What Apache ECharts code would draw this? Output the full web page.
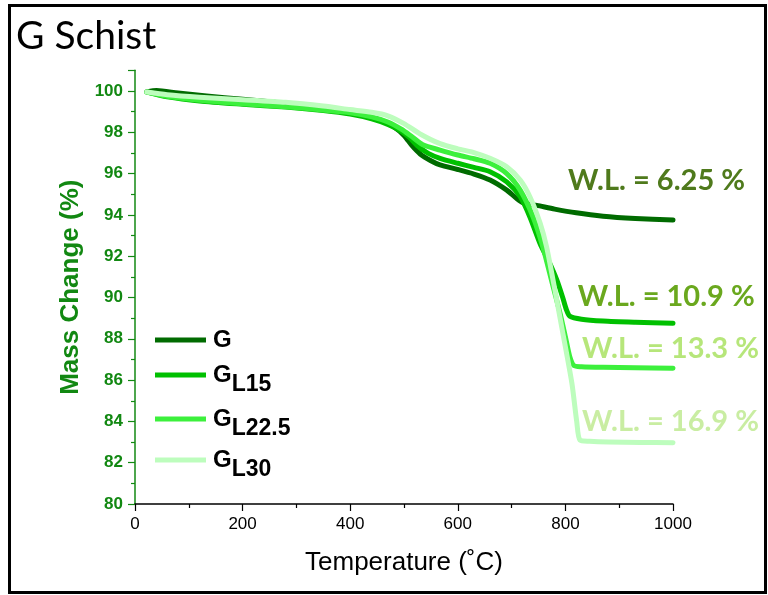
<!DOCTYPE html>
<html>
<head>
<meta charset="utf-8">
<script src="https://cdn.jsdelivr.net/npm/echarts@6/dist/echarts.min.js"></script>
<style>
  html, body { margin: 0; padding: 0; background: #fff; }
  #chart { width: 768px; height: 595px; }
</style>
</head>
<body>
<div id="chart"></div>
<script>
// Thermogravimetric curves: temperature (°C) and remaining mass (%)
const seriesNames = ['G', 'GL15', 'GL22.5', 'GL30'];

const tempG = [22, 40, 80, 133, 200, 260, 320, 380, 430, 460, 480, 500, 515, 530, 550, 567, 600, 630, 660, 691, 710, 722, 747, 780, 820, 870, 930, 1000];
const massG = [99.95, 100.02, 99.9, 99.76, 99.6, 99.45, 99.28, 99.02, 98.78, 98.55, 98.28, 97.85, 97.35, 96.95, 96.62, 96.42, 96.2, 95.98, 95.69, 95.2, 94.78, 94.58, 94.46, 94.28, 94.1, 93.94, 93.83, 93.75];

const tempL15 = [22, 60, 120, 200, 280, 350, 400, 440, 470, 495, 510, 525, 545, 567, 600, 630, 660, 691, 716, 734, 753, 770, 784, 795, 802, 808, 830, 870, 930, 1000];
const massL15 = [99.95, 99.72, 99.52, 99.36, 99.22, 99.05, 98.88, 98.65, 98.38, 98.05, 97.75, 97.35, 96.98, 96.74, 96.5, 96.3, 96.09, 95.6, 94.88, 93.9, 92.6, 91.7, 90.85, 90.0, 89.4, 89.1, 88.95, 88.86, 88.8, 88.75];

const tempL225 = [22, 60, 120, 200, 280, 350, 400, 440, 470, 495, 515, 535, 567, 600, 630, 660, 691, 716, 740, 758, 775, 790, 800, 808, 816, 830, 870, 930, 1000];
const massL225 = [99.95, 99.74, 99.55, 99.38, 99.24, 99.08, 98.95, 98.75, 98.5, 98.15, 97.78, 97.4, 97.14, 96.9, 96.72, 96.5, 96.0, 95.2, 93.9, 92.46, 90.75, 89.24, 88.1, 87.15, 86.7, 86.65, 86.62, 86.6, 86.57];

const tempL30 = [22, 60, 120, 200, 280, 350, 400, 440, 470, 500, 530, 567, 600, 630, 660, 691, 716, 734, 753, 765, 777, 793, 812, 821, 827, 845, 880, 940, 1000];
const massL30 = [99.95, 99.82, 99.7, 99.58, 99.45, 99.27, 99.1, 98.97, 98.8, 98.42, 97.92, 97.45, 97.2, 97.02, 96.74, 96.33, 95.69, 94.88, 93.6, 92.46, 90.85, 88.59, 85.86, 84.0, 83.1, 83.04, 83.0, 82.98, 82.97];

// Weight-loss annotations and the point (°C, %) each one starts from
const lossLabels = ['W.L. = 6.25 %', 'W.L. = 10.9 %', 'W.L. = 13.3 %', 'W.L. = 16.9 %'];
const lossAnchors = [[805, 95.65], [823, 90.05], [831, 87.52], [831, 83.98]];

const lineColors = ['#006b00', '#00c000', '#3cf03c', '#bdfdbd'];
const lossColors = ['#4f7a1c', '#6aa81e', '#b6e67a', '#c9eda2'];
const axisGreen = '#128812';

const temps = [tempG, tempL15, tempL225, tempL30];
const masses = [massG, massL15, massL225, massL30];

function pairs(t, m) { return t.map((x, i) => [x, m[i]]); }

const chart = echarts.init(document.getElementById('chart'), null, { renderer: 'canvas' });

// one legend block per series so each entry sits at its own height
const legendTops = [328, 363, 407, 448];
const legends = seriesNames.map((name, i) => ({
  data: [name],
  left: 155,
  top: legendTops[i],
  padding: 0,
  icon: 'rect',
  itemWidth: 51,
  itemHeight: 5,
  itemGap: 0,
  selectedMode: false,
  formatter: n => n === 'G' ? '{m|G}' : '{m|G}{s|' + n.slice(1) + '}',
  textStyle: {
    padding: [0, 0, 0, 2],
    rich: {
      m: { fontFamily: 'Liberation Sans', fontWeight: 'bold', fontSize: 24, color: '#000' },
      s: { fontFamily: 'Liberation Sans', fontWeight: 'bold', fontSize: 23, color: '#000', padding: [19, 0, 0, 0] }
    }
  }
}));

chart.setOption({
  animation: false,
  backgroundColor: '#fff',
  title: {
    text: 'G Schist',
    left: 16,
    top: 17,
    padding: 0,
    textStyle: { fontFamily: 'Lato', fontWeight: 'normal', fontSize: 39, color: '#000' }
  },
  legend: legends,
  grid: { left: 135, right: 95, top: 70.35, bottom: 91 },
  xAxis: {
    type: 'value',
    min: 0, max: 1000, interval: 200,
    name: 'Temperature (˚C)',
    nameLocation: 'middle',
    nameGap: 46,
    nameTextStyle: { fontFamily: 'Liberation Sans', fontSize: 26, color: '#000' },
    axisLine: { show: true, lineStyle: { color: '#000', width: 1.5 } },
    axisTick: { show: true, length: 7, lineStyle: { color: '#000', width: 1.2 } },
    minorTick: { show: true, splitNumber: 2, length: 4, lineStyle: { color: '#000', width: 1.2 } },
    axisLabel: { fontFamily: 'Liberation Sans', fontSize: 17, color: '#000', margin: 12, formatter: v => String(v) },
    splitLine: { show: false },
    minorSplitLine: { show: false }
  },
  yAxis: {
    type: 'value',
    min: 80, max: 101, interval: 2,
    name: 'Mass Change (%)',
    nameLocation: 'middle',
    nameGap: 50,
    nameTextStyle: { fontFamily: 'Liberation Sans', fontWeight: 'bold', fontSize: 26, color: axisGreen },
    axisLine: { show: true, lineStyle: { color: axisGreen, width: 1.5 } },
    axisTick: { show: true, length: 7, lineStyle: { color: axisGreen, width: 1.2 } },
    minorTick: { show: true, splitNumber: 2, length: 4, lineStyle: { color: axisGreen, width: 1.2 } },
    axisLabel: {
      fontFamily: 'Liberation Sans', fontWeight: 'bold', fontSize: 17, color: axisGreen, margin: 12,
      formatter: v => (v > 100 ? '' : String(v))
    },
    splitLine: { show: false },
    minorSplitLine: { show: false }
  },
  series: seriesNames.map((name, i) => ({
    name: name,
    type: 'line',
    data: pairs(temps[i], masses[i]),
    showSymbol: false,
    symbol: 'none',
    smooth: 0.25,
    lineStyle: { color: lineColors[i], width: 5, cap: 'round', join: 'round' },
    itemStyle: { color: lineColors[i] },
    emphasis: { disabled: true }
  }))
});

// Weight-loss texts, anchored in data coordinates, plus the outer frame
const graphics = lossLabels.map((txt, i) => {
  const p = chart.convertToPixel({ gridIndex: 0 }, lossAnchors[i]);
  return {
    type: 'text',
    x: p[0], y: p[1],
    style: {
      text: txt,
      fill: lossColors[i],
      font: 'bold 29px Lato',
      textAlign: 'left',
      textVerticalAlign: 'middle'
    }
  };
});
graphics.push({
  type: 'rect',
  shape: { x: 9.5, y: 5.5, width: 756, height: 587 },
  style: { fill: 'none', stroke: '#000', lineWidth: 3 },
  silent: true
});
chart.setOption({ graphic: graphics });
</script>
</body>
</html>
